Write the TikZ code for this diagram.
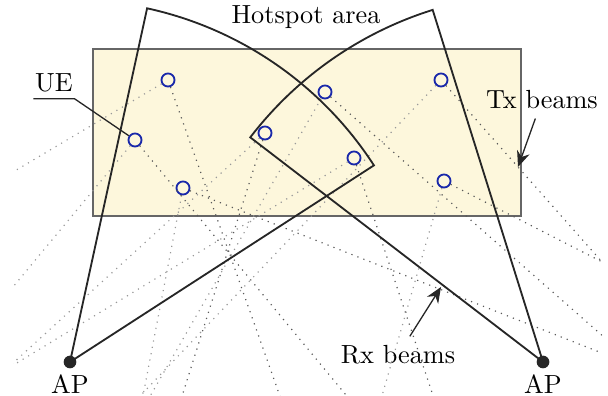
\documentclass[tikz,border=0pt]{standalone}
\usepackage{tikz}
\usetikzlibrary{arrows.meta, positioning, calc}
\definecolor{hotspot}{RGB}{253,247,220}
\definecolor{uecol}{RGB}{25,40,170}

\begin{document}
\begin{tikzpicture}[
    x=0.0134cm, y=0.0134cm,
    ue/.style={circle, draw=uecol, line width=0.7pt, minimum size=0.175cm, inner sep=0pt},
    ap/.style={circle, fill=black!85, minimum size=0.17cm, inner sep=0pt},
    sector/.style={draw=black!85, line width=0.7pt},
    txdark/.style={dotted, draw=black!65, line width=0.45pt},
    txlight/.style={dotted, draw=black!40, line width=0.45pt},
    pointer/.style={-{Stealth[length=6pt, width=5pt]}, black!85, line width=0.5pt}
  ]
  \useasboundingbox (0,0) rectangle (608,396);
  \fill[hotspot, draw=black!60, line width=0.7pt] (93,180) rectangle (521,347);

  \node[ap] (apl) at (70,34) {};
  \node[ap] (apr) at (543,34) {};
  \node[below=1pt of apl, inner sep=1pt] (apllab) {AP};
  \node[below=1pt of apr, inner sep=1pt] (aprlab) {AP};

  \node[ue] (u1) at (168,316) {};
  \node[ue] (u2) at (135,256) {};
  \node[ue] (u3) at (183,208) {};
  \node[ue] (u4) at (265,263) {};
  \node[ue] (u5) at (325,304) {};
  \node[ue] (u6) at (354,238) {};
  \node[ue] (u7) at (441,316) {};
  \node[ue] (u8) at (444,215) {};

  \begin{scope}
    \clip (13,0) rectangle (602,396);
    \foreach \u/\a in {u1/210.7, u2/230.3, u3/259.1, u4/222.4, u5/240.1, u6/211.3, u7/226.4, u8/253.9}
      \draw[txlight] (\u) -- +(\a:700);
    \foreach \u/\a in {u1/289.5, u2/309.6, u3/338.5, u4/252.5, u5/318.7, u6/288.4, u7/311.5, u8/332.9}
      \draw[txdark] (\u) -- +(\a:700);
  \end{scope}

  \draw[sector] (apl.center) -- +(77.7:362) arc[start angle=77.7, end angle=32.9, radius=362] -- (apl.center);
  \draw[sector] (apr.center) -- +(107.4:369) arc[start angle=107.4, end angle=142.5, radius=369] -- (apr.center);

  \node (hotlab) at (306,379) {Hotspot area};
  \node[inner xsep=0.5pt, inner ysep=2.3pt] (uelab) at (54,313) {UE};
  \draw[black!85, line width=0.5pt] (uelab.south west) -- (uelab.south east) -- (u2);

  \node (txlab) at (542,296) {Tx beams};
  \coordinate (txpt) at (518,229);
  \draw[pointer] (txlab) -- (txpt);

  \node (rxlab) at (398,41) {Rx beams};
  \coordinate (rxpt) at (441,109);
  \draw[pointer] (rxlab) -- (rxpt);
\end{tikzpicture}
\end{document}
